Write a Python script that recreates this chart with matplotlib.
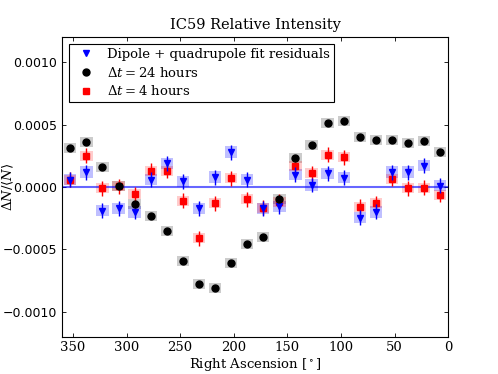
import numpy as np
import matplotlib
matplotlib.use('AGG')
import matplotlib.pyplot as plt
from matplotlib.ticker import MultipleLocator, FuncFormatter

# bin centres in right ascension [deg]
ra = [352.5, 337.5, 322.5, 307.5, 292.5, 277.5, 262.5, 247.5, 232.5, 217.5,
      202.5, 187.5, 172.5, 157.5, 142.5, 127.5, 112.5, 97.5, 82.5, 67.5,
      52.5, 37.5, 22.5, 7.5]

# dipole + quadrupole fit residuals
resid = [0.00006, 0.00012, -0.00019, -0.00017, -0.00020, 0.00006, 0.00019, 0.000046,
         -0.00017, 0.00008, 0.00028, 0.00006, -0.00017, -0.000155, 0.00010, 0.000016,
         0.00011, 0.000075, -0.000245, -0.00020, 0.00012, 0.00012, 0.00017, 0.00001]
resid_err = [0.00006] * 24

# delta t = 24 hours
day = [0.00031, 0.00036, 0.00016, 0.00001, -0.000136, -0.00023, -0.00035, -0.00059,
       -0.00078, -0.00081, -0.00061, -0.00046, -0.00040, -0.00010, 0.00023, 0.00034,
       0.00051, 0.00053, 0.00040, 0.00038, 0.00038, 0.00035, 0.00037, 0.00028]

# delta t = 4 hours
four = [0.00006, 0.00025, -0.00001, 0.000005, -0.00006, 0.00013, 0.00013, -0.00011,
        -0.00041, -0.00013, 0.00007, -0.00010, -0.000165, -0.00012, 0.000166, 0.00011,
        0.00026, 0.00024, -0.00016, -0.00013, 0.000067, -0.00001, -0.000005, -0.000064]
four_err = [0.00006] * 24

# systematic boxes (half height) and box width [deg]
sys_resid = 0.000045
sys_day = 0.00004
sys_four = 0.00004
box_w = 11.5

plt.rcParams['font.family'] = 'DejaVu Serif'
plt.rcParams['mathtext.fontset'] = 'dejavuserif'
plt.rcParams['font.size'] = 9.5

fig, ax = plt.subplots(figsize=(4.98, 3.74), dpi=100)
fig.subplots_adjust(left=0.125, right=0.9, bottom=0.1, top=0.9)

ra = np.array(ra)
resid = np.array(resid)
day = np.array(day)
four = np.array(four)

# systematic boxes
ax.bar(ra, 2 * sys_resid, bottom=resid - sys_resid, width=box_w, color='b', alpha=0.25, lw=0, zorder=1)
ax.bar(ra, 2 * sys_day, bottom=day - sys_day, width=box_w, color='k', alpha=0.2, lw=0, zorder=1)
ax.bar(ra, 2 * sys_four, bottom=four - sys_four, width=box_w, color='r', alpha=0.2, lw=0, zorder=1)

ax.axhline(0, color='b', alpha=0.6, lw=1.5, zorder=2)

# error bars
ax.errorbar(ra, four, yerr=four_err, fmt='none', ecolor='r', elinewidth=1, zorder=3)
ax.errorbar(ra, resid, yerr=resid_err, fmt='none', ecolor='b', elinewidth=1, zorder=4)

ax.plot(ra, four, 's', color='r', ms=5, mec='r', zorder=3, label=r'$\Delta t = 4$ hours')
ax.plot(ra, resid, 'v', color='b', ms=5, mec='b', zorder=4, label='Dipole + quadrupole fit residuals')
ax.plot(ra, day, 'o', color='k', ms=5, zorder=5, label=r'$\Delta t = 24$ hours')

h, l = ax.get_legend_handles_labels()
leg = ax.legend([h[1], h[2], h[0]], [l[1], l[2], l[0]], loc='upper left', numpoints=1,
                fancybox=False, framealpha=1, edgecolor='k', fontsize=9.5,
                borderpad=0.3, handletextpad=0.6, labelspacing=0.35,
                borderaxespad=0.5)
leg.get_frame().set_linewidth(0.8)

ax.set_xlim(360, 0)
ax.set_ylim(-0.0012, 0.0012)
ax.xaxis.set_major_locator(MultipleLocator(50))
ax.yaxis.set_major_locator(MultipleLocator(0.0005))
ax.yaxis.set_major_formatter(FuncFormatter(lambda v, p: ('%.4f' % v).replace('-', '\u2212')))
for t in ax.get_yticklabels():
    t.set_family('DejaVu Sans')
ax.tick_params(direction='in', top=True, right=True, length=3, width=0.6, labelsize=9.5)
ax.tick_params(axis='y', labelsize=9)

ax.set_title('IC59 Relative Intensity', fontsize=10.5)
ax.set_xlabel(r'Right Ascension [$^\circ$]', labelpad=1)
ax.set_ylabel(r'$\Delta N/\langle N\rangle$')
ax.yaxis.set_label_coords(-0.12, 0.5)

plt.savefig('out.png')
plt.close('all')
